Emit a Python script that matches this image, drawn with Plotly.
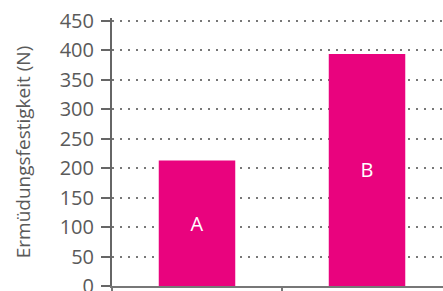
import plotly.graph_objects as go

categories = ["A", "B"]
values = [213, 394]
bar_labels = ["A", "B"]
y_ticks = [0, 50, 100, 150, 200, 250, 300, 350, 400, 450]

fig = go.Figure(go.Bar(
    x=categories, y=values, text=bar_labels,
    textposition="inside", insidetextanchor="middle",
    textfont=dict(color="white", size=20, family="Open Sans"),
    marker=dict(color="#E9037E", line=dict(width=0)),
    width=0.45, hoverinfo="skip",
))

fig.update_layout(
    width=443, height=291,
    margin=dict(l=112, r=0, t=18, b=5),
    plot_bgcolor="white", paper_bgcolor="white",
    showlegend=False,
    font=dict(family="Open Sans", color="#555"),
)
fig.update_xaxes(
    range=[-0.5, 1.447], showticklabels=False, tickson="boundaries",
    ticks="outside", ticklen=5, tickwidth=2, tickcolor="#777",
    showline=True, linecolor="#777", linewidth=2, showgrid=False,
    automargin=False,
)
fig.update_yaxes(
    range=[0, 455], tickvals=y_ticks,
    ticks="outside", ticklen=9, tickwidth=2, tickcolor="#666",
    showline=True, linecolor="#666", linewidth=2,
    tickfont=dict(size=20, color="#5a5a5a"), ticklabelstandoff=3,
    ticklabeloverflow="allow", automargin=False,
    title=dict(text="Ermüdungsfestigkeit (N)", font=dict(size=19, color="#5a5a5a"), standoff=24),
    showgrid=True, gridcolor="#777", gridwidth=2, griddash="2px,6px",
    zeroline=False,
)

fig.write_html("out.html", config={"displayModeBar": False},
               post_script="document.body.style.margin='0';")
